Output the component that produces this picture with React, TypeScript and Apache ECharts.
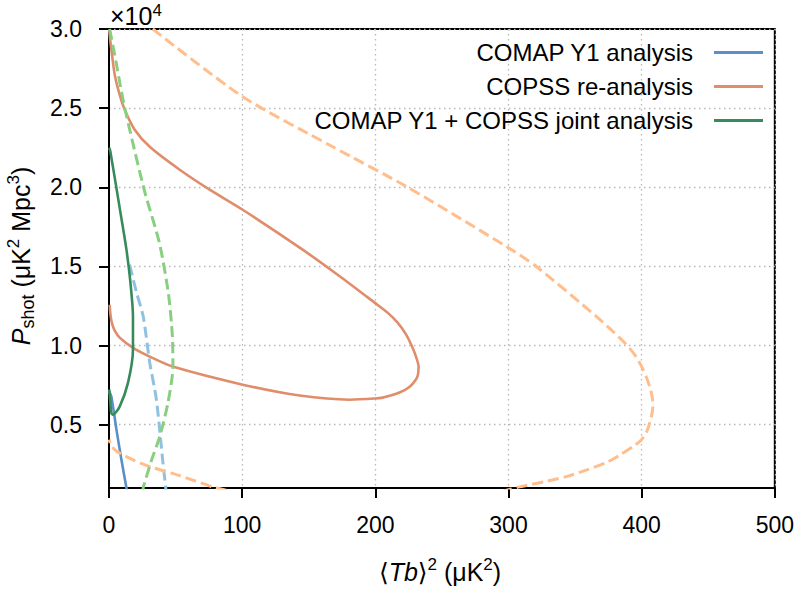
import { useEffect, useRef } from 'react';
import * as echarts from 'echarts';

const FONT = '"Liberation Sans", Arial, "DejaVu Sans", sans-serif';

const xTicks = [0, 100, 200, 300, 400, 500];
const yTicks = [5000, 10000, 15000, 20000, 25000, 30000];

const legendNames = ['COMAP Y1 analysis', 'COPSS re-analysis', 'COMAP Y1 + COPSS joint analysis'];

// [<Tb>^2 (uK^2), P_shot (uK^2 Mpc^3)]
const comapInner = [
  [0.2, 7090], [1.8, 6770], [5.6, 4690], [9.5, 2700], [13.1, 1000], [14.5, 300],
];
const comapOuter = [
  [15.5, 15110], [20.5, 13400], [25.7, 11830], [30.6, 8920], [35.6, 6580], [40.5, 2600], [42.6, 1000], [43.2, 300],
];
const copssInner = [
  [0.2, 29960], [0.9, 29320], [1.8, 28690], [4.3, 27110], [8.0, 25850], [11.8, 24900], [19.3, 23640],
  [30.6, 22560], [53.1, 21110], [75.6, 19850], [100.4, 18580], [145.4, 16060], [173.2, 14380],
  [199.5, 12710], [209.2, 12080], [216.7, 11450], [222.7, 10750], [227.3, 9990], [230.3, 9360],
  [232.5, 8670], [232.0, 8160], [230.5, 7850], [225.8, 7400], [218.2, 7030], [205.5, 6710],
  [199.5, 6650], [180.7, 6580], [143.2, 6840], [100.4, 7530], [47.8, 8670], [30.6, 9300], [17.8, 9870],
  [8.0, 10500], [4.3, 10940], [2.3, 11380], [1.1, 11950], [0.5, 12580],
];
const copssOuter = [
  [32.8, 30000], [100.4, 25720], [168.0, 22560], [223.5, 20040], [298.6, 16250], [321.1, 14980],
  [366.1, 11830], [377.0, 11000], [387.2, 10180], [394.7, 9430], [400.0, 8670], [403.7, 7970],
  [406.7, 7220], [408.0, 6710], [408.4, 6140], [406.7, 5320], [403.5, 4500], [399.2, 3990],
  [393.4, 3610], [384.2, 3110], [373.4, 2600], [359.4, 2160], [343.4, 1720], [327.1, 1400],
  [308.3, 1070], [296.0, 800], [280.0, 400], [100.0, 400], [90.0, 800], [77.9, 1070], [53.1, 1780],
  [32.8, 2290], [19.3, 2730], [8.0, 3200], [4.3, 3420], [1.3, 3740], [0.15, 4060],
];
const jointInner = [
  [0.2, 22500], [1.05, 22250], [8.6, 18400], [13.1, 16060], [16.1, 13970], [18.0, 11830],
  [18.0, 9750], [14.3, 7660], [8.0, 6140], [3.0, 5630], [1.65, 5760], [1.05, 6390], [0.2, 7210],
];
const jointOuter = [
  [0.5, 30000], [2.8, 29010], [5.8, 27680], [8.8, 26290], [11.8, 25030], [15.9, 23510], [26.8, 19720],
  [37.8, 16500], [44.6, 13300], [47.6, 10600], [48.0, 8670], [44.3, 6390], [38.1, 4250], [32.1, 2800],
  [26.8, 1340], [25.7, 1000], [25.0, 300],
];

const COLORS = {
  comap: '#5b8fc7',
  comapLight: '#8ec1e2',
  copss: '#df8d6a',
  copssLight: '#ffbe8c',
  joint: '#378b5a',
  jointLight: '#88cf80',
};

function lineSeries(name: string, data: number[][], color: string, dashed: boolean, z: number) {
  return {
    type: 'line',
    name,
    data,
    symbol: 'none',
    smooth: 0.25,
    clip: true,
    z,
    lineStyle: { color, width: dashed ? 3 : 2.6, type: dashed ? [11, 5] : 'solid' },
    itemStyle: { color },
  };
}

export default function App() {
  const ref = useRef<HTMLDivElement>(null);
  useEffect(() => {
    const chart = echarts.init(ref.current!, null, { renderer: 'svg' });
    const gridLine = { show: true, lineStyle: { color: '#b8b8b8', width: 1.3, type: [1.5, 3.5] } };
    const supStyle = { fontSize: 17, fontFamily: FONT, verticalAlign: 'top', lineHeight: 17, fill: '#000' };
    chart.setOption({
      animation: false,
      backgroundColor: '#fff',
      textStyle: { fontFamily: FONT },
      grid: {
        left: 109, right: 22, top: 29, bottom: 101,
        show: true, borderColor: '#000', borderWidth: 2, backgroundColor: 'transparent',
      },
      legend: {
        data: legendNames,
        orient: 'vertical',
        align: 'right',
        right: 29,
        top: 35,
        icon: 'rect',
        itemWidth: 49,
        itemHeight: 3,
        itemGap: 9,
        textStyle: { fontSize: 24, fontFamily: FONT, color: '#000', lineHeight: 25, padding: [0, 16, 0, 0] },
      },
      xAxis: {
        type: 'value',
        min: xTicks[0],
        max: xTicks[xTicks.length - 1],
        interval: 100,
        axisLine: { show: true, lineStyle: { color: '#000', width: 2 } },
        axisTick: { show: true, inside: false, length: 10, lineStyle: { color: '#000', width: 2 } },
        axisLabel: { fontSize: 23, color: '#000', margin: 25, fontFamily: FONT },
        splitLine: gridLine,
      },
      yAxis: {
        type: 'value',
        min: 1000,
        max: 30000,
        axisLine: { show: true, lineStyle: { color: '#000', width: 2 } },
        axisTick: { show: true, inside: false, length: 10, customValues: yTicks, lineStyle: { color: '#000', width: 2 } },
        axisLabel: {
          fontSize: 23, color: '#000', margin: 27, fontFamily: FONT, customValues: yTicks,
          formatter: (v: number) => (v / 10000).toFixed(1),
        },
        splitLine: gridLine,
      },
      series: [
        lineSeries('COMAP Y1 analysis (2σ)', comapOuter, COLORS.comapLight, true, 2),
        lineSeries('COMAP Y1 analysis', comapInner, COLORS.comap, false, 3),
        lineSeries('COPSS re-analysis (2σ)', copssOuter, COLORS.copssLight, true, 4),
        lineSeries('COPSS re-analysis', copssInner, COLORS.copss, false, 5),
        lineSeries('COMAP Y1 + COPSS joint analysis (2σ)', jointOuter, COLORS.jointLight, true, 6),
        lineSeries('COMAP Y1 + COPSS joint analysis', jointInner, COLORS.joint, false, 7),
      ],
      graphic: [
        {
          type: 'text',
          x: 110,
          y: 16,
          style: {
            text: '{n|×10}{sup|4}',
            fontSize: 25,
            fontFamily: FONT,
            fill: '#000',
            verticalAlign: 'middle',
            align: 'left',
            rich: {
              n: { fontSize: 25, fontFamily: FONT, lineHeight: 29, fill: '#000' },
              sup: { fontSize: 17, fontFamily: FONT, verticalAlign: 'top', lineHeight: 17, fill: '#000' },
            },
          },
        },
        {
          type: 'text',
          x: 440,
          y: 572,
          style: {
            text: '{n|⟨}{i|Tb}{n|⟩}{sup|2}{n| (μK}{sup|2}{n|)}',
            fontSize: 25,
            fontFamily: FONT,
            fill: '#000',
            align: 'center',
            verticalAlign: 'middle',
            rich: {
              n: { fontSize: 25, fontFamily: FONT, lineHeight: 32, fill: '#000' },
              i: { fontSize: 25, fontFamily: FONT, fontStyle: 'italic', lineHeight: 32, fill: '#000' },
              sup: supStyle,
            },
          },
        },
        {
          type: 'text',
          x: 21,
          y: 256,
          rotation: Math.PI / 2,
          style: {
            text: '{i|P}{sub|shot}{n| (μK}{sup|2}{n| Mpc}{sup|3}{n|)}',
            fontSize: 25,
            fontFamily: FONT,
            fill: '#000',
            align: 'center',
            verticalAlign: 'middle',
            rich: {
              n: { fontSize: 25, fontFamily: FONT, lineHeight: 32, fill: '#000' },
              i: { fontSize: 25, fontFamily: FONT, fontStyle: 'italic', lineHeight: 32, fill: '#000' },
              sub: { fontSize: 18, fontFamily: FONT, verticalAlign: 'bottom', lineHeight: 18, fill: '#000' },
              sup: supStyle,
            },
          },
        },
      ],
    });
    return () => chart.dispose();
  }, []);
  return <div ref={ref} style={{ position: 'fixed', left: 0, top: 0, width: 797, height: 589 }} />;
}
